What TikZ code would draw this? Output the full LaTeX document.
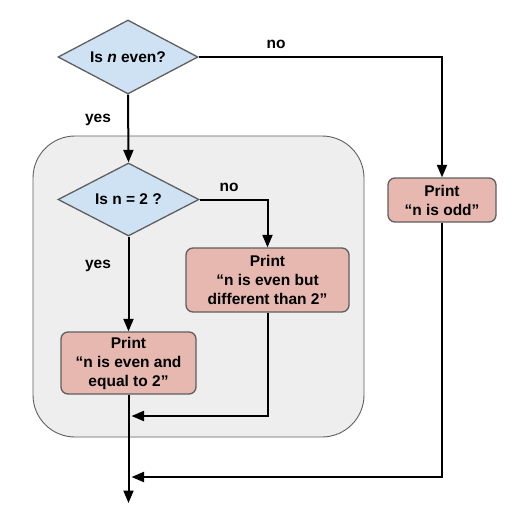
\documentclass[tikz,border=0pt]{standalone}
\usepackage{fontspec}
\setmainfont{Liberation Sans}
\usetikzlibrary{shapes.geometric,arrows.meta}
\definecolor{dfill}{HTML}{CFE2F3}
\definecolor{bfill}{HTML}{E6B8AF}
\definecolor{gfill}{HTML}{EEEEEE}
\definecolor{edgec}{HTML}{5F5F5F}
\tikzset{
  decision/.style={diamond, aspect=1.9, draw=edgec, line width=1.3pt, fill=dfill, minimum width=140pt, minimum height=74pt, inner sep=0pt},
  printbox/.style={rectangle, rounded corners=7pt, draw=edgec, line width=1.3pt, fill=bfill, align=center, inner sep=0pt},
  group/.style={rectangle, rounded corners=42pt, draw=edgec, line width=0.9pt, fill=gfill, inner sep=0pt},
  conn/.style={line width=2pt, black},
  arr/.style={conn, -{Triangle[length=12.5pt,width=10pt]}},
  lbl/.style={inner sep=0pt}
}
\begin{document}
\begin{tikzpicture}[x=1pt,y=-1pt, font=\fontsize{15.5}{19}\selectfont\bfseries]
\useasboundingbox (0,0) rectangle (513,528);
\node[group, minimum width=331pt, minimum height=301pt] (grp) at (198.5,286.5) {};
\node[decision] (d1) at (128,57) {Is \textit{n} even?};
\node[decision, minimum width=141pt, minimum height=73pt] (d2) at (128.5,199.5) {Is n = 2 ?};
\node[printbox, minimum width=163pt, minimum height=64pt] (b2) at (267.5,280) {Print\\“n is even but\\different than 2”};
\node[printbox, minimum width=135pt, minimum height=62pt] (b1) at (128.5,363) {Print\\“n is even and\\equal to 2”};
\node[printbox, minimum width=108pt, minimum height=44pt] (odd) at (442,200) {Print\\“n is odd”};
\node[lbl] (no1) at (276,44) {no};
\node[lbl] (yes1) at (98,120) {yes};
\node[lbl] (no2) at (229,187) {no};
\node[lbl] (yes2) at (98,266) {yes};
\coordinate (m1) at (131.5,416);
\coordinate (m2) at (131.5,477);
\coordinate (end) at (128,503);
\draw[arr] (d1.south) -- (d2.north);
\draw[arr] (d1.east) -| (odd.north);
\draw[arr] (d2.east) -| (b2.north);
\draw[arr] (d2.south) -- (b1.north -| d2.south);
\draw[arr] (b2.south) |- (m1);
\draw[arr] (odd.south) |- (m2);
\draw[arr] (b1.south -| d2.south) -- (end -| d2.south);
\end{tikzpicture}
\end{document}
